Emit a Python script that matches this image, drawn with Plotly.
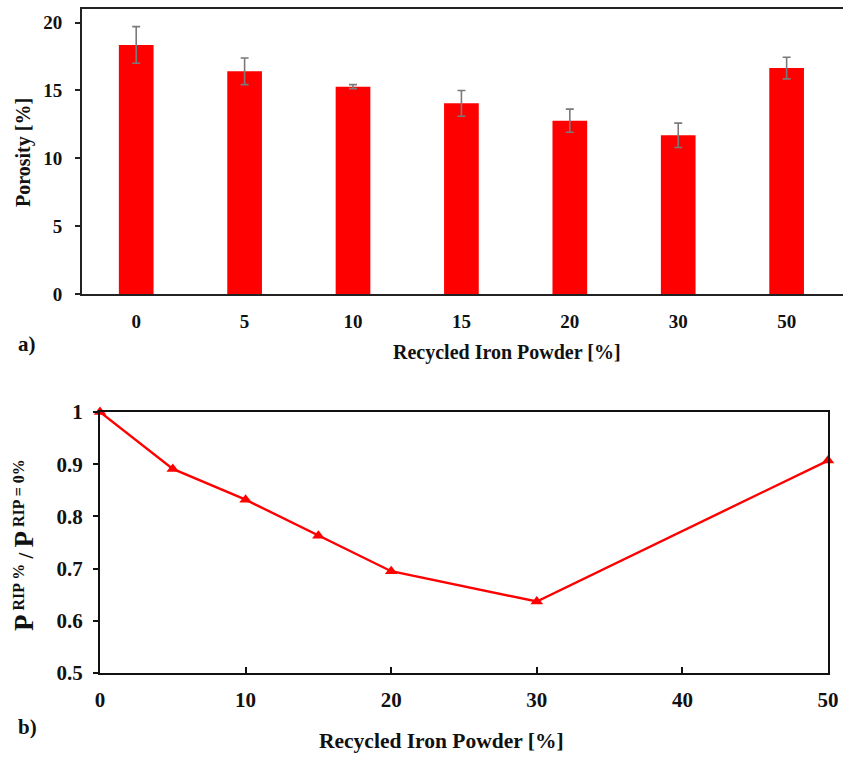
import plotly.graph_objects as go

# Recycled iron powder content (%) and measured porosity (%)
rip_labels = ["0", "5", "10", "15", "20", "30", "50"]
rip_values = [0, 5, 10, 15, 20, 30, 50]
porosity = [18.35, 16.41, 15.28, 14.05, 12.77, 11.69, 16.65]
porosity_err = [1.35, 0.98, 0.15, 0.95, 0.85, 0.90, 0.80]

# Porosity normalised to the 0 % RIP mix
porosity_ratio = [1.0, 0.891, 0.832, 0.763, 0.695, 0.637, 0.907]

W, H = 843, 758
FONT = "Liberation Serif"

fig = go.Figure()

# a) porosity bars with error bars
fig.add_trace(go.Bar(
    x=rip_labels, y=porosity, width=0.32,
    marker=dict(color="#FF0000", line=dict(width=0)),
    error_y=dict(type="data", array=porosity_err, color="#7a7a7a",
                 thickness=1.6, width=4),
    xaxis="x", yaxis="y", showlegend=False,
))

# b) normalised porosity line
fig.add_trace(go.Scatter(
    x=rip_values, y=porosity_ratio, mode="lines+markers",
    line=dict(color="#FF0000", width=2.4),
    marker=dict(symbol="triangle-up", size=11, color="#FF0000"),
    cliponaxis=False, xaxis="x2", yaxis="y2", showlegend=False,
))

tick_top = dict(family=FONT, size=19, color="#111111", weight="bold")
tick_bot = dict(family=FONT, size=21, color="#111111", weight="bold")


def px_x(p):
    return p / W


def px_y(p):
    return 1 - p / H


fig.update_layout(
    width=W, height=H,
    margin=dict(l=0, r=0, t=0, b=0),
    paper_bgcolor="white", plot_bgcolor="white",
    template="none",
    font=dict(family=FONT),
    xaxis=dict(
        domain=[px_x(82), 1.0], anchor="y",
        type="category", range=[-0.5, 6.52],
        showline=True, linecolor="#222222", linewidth=2, mirror=True,
        ticks="", showgrid=False, zeroline=False,
        tickfont=tick_top, ticklabelstandoff=9, automargin=False,
    ),
    yaxis=dict(
        domain=[px_y(294), px_y(9)], anchor="x",
        range=[0, 21], tickvals=[0, 5, 10, 15, 20],
        showline=True, linecolor="#222222", linewidth=2, mirror=False,
        ticks="outside", ticklen=5, tickwidth=1.5, tickcolor="#222222",
        showgrid=False, zeroline=False, tickfont=tick_top,
        ticklabelstandoff=9, automargin=False,
    ),
    xaxis2=dict(
        domain=[px_x(100), px_x(828)], anchor="y2",
        range=[0, 50], tickvals=[0, 10, 20, 30, 40, 50],
        showline=True, linecolor="#111111", linewidth=2.2, mirror=True,
        ticks="inside", ticklen=6, tickwidth=1.8, tickcolor="#111111",
        showgrid=False, zeroline=False, tickfont=tick_bot,
        ticklabelstandoff=7, automargin=False,
    ),
    yaxis2=dict(
        domain=[px_y(673), px_y(412)], anchor="x2",
        range=[0.5, 1.0], tickvals=[0.5, 0.6, 0.7, 0.8, 0.9, 1.0],
        ticktext=["0.5", "0.6", "0.7", "0.8", "0.9", "1"],
        showline=True, linecolor="#111111", linewidth=2.2, mirror=True,
        ticks="outside", ticklen=5, tickwidth=1.5, tickcolor="#111111",
        showgrid=False, zeroline=False, tickfont=tick_bot,
        ticklabelstandoff=6, automargin=False,
    ),
)

big_p = "<span style='font-size:27px'>P</span>"
ratio_title = ("<b>" + big_p + "<sup><span style='font-size:16px'> RIP %</span></sup>"
               " / " + big_p +
               "<sup><span style='font-size:16px'> RIP = 0%</span></sup></b>")

annotations = [
    dict(text="<b>Recycled Iron Powder [%]</b>", x=px_x(507), y=px_y(352),
         font=dict(family=FONT, size=20, color="#111111")),
    dict(text="<b>Porosity [%]</b>", x=px_x(23), y=px_y(153), textangle=-90,
         font=dict(family=FONT, size=20, color="#111111")),
    dict(text="<b>a)</b>", x=px_x(27), y=px_y(344),
         font=dict(family=FONT, size=21, color="#111111")),
    dict(text="<b>Recycled Iron Powder [%]</b>", x=px_x(441), y=px_y(741),
         font=dict(family=FONT, size=21.5, color="#111111")),
    dict(text=ratio_title, x=px_x(24), y=px_y(545), textangle=-90,
         font=dict(family=FONT, size=21, color="#111111")),
    dict(text="<b>b)</b>", x=px_x(28), y=px_y(727),
         font=dict(family=FONT, size=21, color="#111111")),
]
for a in annotations:
    a.update(xref="paper", yref="paper", showarrow=False,
             xanchor="center", yanchor="middle")
fig.update_layout(annotations=annotations)

fig.write_html("out.html")
